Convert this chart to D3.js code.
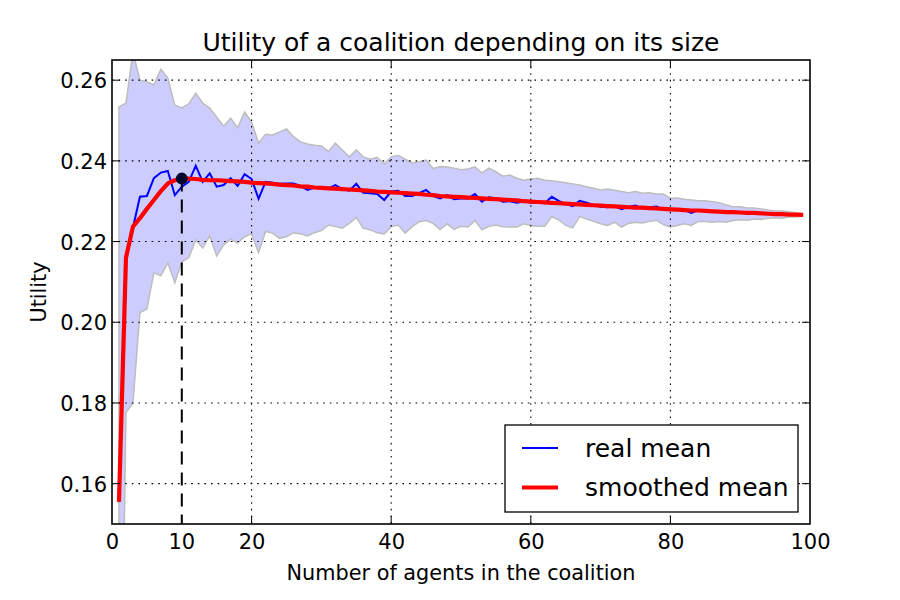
<!DOCTYPE html>
<html>
<head>
<meta charset="utf-8">
<script src="https://cdn.jsdelivr.net/npm/d3@7"></script>
<style>
  body { margin: 0; background: #fff; }
  #chart { width: 900px; height: 600px; }
  text { font-family: "DejaVu Sans", sans-serif; fill: #000; }
</style>
</head>
<body>
<div id="chart"></div>
<script>
// coalition sizes 1..99
const sizes = d3.range(1, 100);

const realMean = [
  0.1555, 0.2160, 0.2234, 0.2311, 0.2313, 0.2357, 0.2371, 0.2375, 0.2315, 0.2336,
  0.2348, 0.2388, 0.2348, 0.2369, 0.2336, 0.2340, 0.2357, 0.2338, 0.2367, 0.2355,
  0.2306, 0.2348, 0.2346, 0.2343, 0.2344, 0.2344, 0.2338, 0.2328, 0.2334, 0.2332,
  0.2332, 0.2340, 0.2330, 0.2326, 0.2343, 0.2321, 0.2320, 0.2318, 0.2303, 0.2324,
  0.2326, 0.2313, 0.2313, 0.2320, 0.2328, 0.2313, 0.2307, 0.2315, 0.2305, 0.2307,
  0.2307, 0.2318, 0.2299, 0.2310, 0.2307, 0.2299, 0.2300, 0.2296, 0.2299, 0.2297,
  0.2297, 0.2295, 0.2311, 0.2301, 0.2293, 0.2288, 0.2301, 0.2296, 0.2291, 0.2286,
  0.2285, 0.2288, 0.2280, 0.2286, 0.2289, 0.2282, 0.2285, 0.2287, 0.2279, 0.2281,
  0.2278, 0.2278, 0.2271, 0.2278, 0.2276, 0.2274, 0.2275, 0.2273, 0.2272, 0.2273,
  0.2270, 0.2271, 0.2269, 0.2270, 0.2268, 0.2267, 0.2268, 0.2266, 0.2266
];

const smoothedMean = [
  0.1555, 0.2160, 0.2237, 0.2258, 0.2281, 0.2303, 0.2325, 0.2344, 0.2352, 0.2356,
  0.2356, 0.2355, 0.2353, 0.2352, 0.2352, 0.2351, 0.2350, 0.2349, 0.2348, 0.2346,
  0.2345, 0.2344, 0.2343, 0.2341, 0.2340, 0.2339, 0.2337, 0.2336, 0.2334, 0.2333,
  0.2332, 0.2331, 0.2330, 0.2329, 0.2328, 0.2327, 0.2326, 0.2324, 0.2323, 0.2322,
  0.2321, 0.2320, 0.2319, 0.2318, 0.2316, 0.2315, 0.2313, 0.2312, 0.2311, 0.2310,
  0.2309, 0.2308, 0.2307, 0.2306, 0.2305, 0.2304, 0.2303, 0.2302, 0.2300, 0.2299,
  0.2298, 0.2297, 0.2296, 0.2295, 0.2294, 0.2293, 0.2292, 0.2291, 0.2290, 0.2289,
  0.2288, 0.2287, 0.2286, 0.2285, 0.2284, 0.2284, 0.2283, 0.2282, 0.2281, 0.2280,
  0.2279, 0.2278, 0.2277, 0.2277, 0.2276, 0.2275, 0.2274, 0.2273, 0.2273, 0.2272,
  0.2271, 0.2271, 0.2270, 0.2269, 0.2268, 0.2268, 0.2267, 0.2267, 0.2266
];

const bandUpper = [
  0.2534, 0.2543, 0.2670, 0.2600, 0.2596, 0.2588, 0.2627, 0.2605, 0.2538, 0.2531,
  0.2541, 0.2568, 0.2543, 0.2531, 0.2508, 0.2486, 0.2506, 0.2482, 0.2521, 0.2496,
  0.2444, 0.2466, 0.2464, 0.2472, 0.2479, 0.2460, 0.2447, 0.2442, 0.2439, 0.2437,
  0.2423, 0.2444, 0.2427, 0.2410, 0.2427, 0.2410, 0.2404, 0.2409, 0.2392, 0.2410,
  0.2414, 0.2404, 0.2395, 0.2398, 0.2402, 0.2381, 0.2386, 0.2385, 0.2382, 0.2378,
  0.2380, 0.2385, 0.2370, 0.2382, 0.2373, 0.2362, 0.2365, 0.2357, 0.2352, 0.2355,
  0.2357, 0.2352, 0.2351, 0.2348, 0.2346, 0.2343, 0.2340, 0.2336, 0.2332, 0.2328,
  0.2330, 0.2327, 0.2324, 0.2321, 0.2324, 0.2320, 0.2321, 0.2318, 0.2318, 0.2307,
  0.2308, 0.2305, 0.2303, 0.2301, 0.2301, 0.2299, 0.2296, 0.2291, 0.2286, 0.2286,
  0.2283, 0.2283, 0.2281, 0.2278, 0.2276, 0.2276, 0.2274, 0.2271, 0.2268
];

const bandLower = [
  0.0590, 0.1776, 0.1800, 0.2024, 0.2033, 0.2123, 0.2115, 0.2147, 0.2098, 0.2150,
  0.2160, 0.2204, 0.2184, 0.2214, 0.2164, 0.2192, 0.2206, 0.2196, 0.2212, 0.2219,
  0.2173, 0.2225, 0.2221, 0.2208, 0.2212, 0.2222, 0.2219, 0.2214, 0.2222, 0.2227,
  0.2241, 0.2237, 0.2233, 0.2245, 0.2260, 0.2233, 0.2229, 0.2222, 0.2219, 0.2237,
  0.2241, 0.2221, 0.2237, 0.2249, 0.2252, 0.2245, 0.2230, 0.2244, 0.2230, 0.2238,
  0.2236, 0.2252, 0.2229, 0.2238, 0.2241, 0.2237, 0.2236, 0.2236, 0.2244, 0.2240,
  0.2238, 0.2238, 0.2262, 0.2254, 0.2240, 0.2234, 0.2262, 0.2256, 0.2250, 0.2244,
  0.2240, 0.2248, 0.2236, 0.2245, 0.2248, 0.2246, 0.2250, 0.2253, 0.2242, 0.2236,
  0.2240, 0.2244, 0.2240, 0.2250, 0.2250, 0.2248, 0.2250, 0.2248, 0.2252, 0.2254,
  0.2253, 0.2256, 0.2255, 0.2258, 0.2259, 0.2258, 0.2261, 0.2261, 0.2263
];

const xTicks = [0, 20, 40, 60, 80, 100];
const yTicks = [0.16, 0.18, 0.20, 0.22, 0.24, 0.26];
const bestSize = 10;
const bestUtility = 0.2356;
const legendLabels = ["real mean", "smoothed mean"];

class Chart{
  constructor(opts){
    this.element = opts.element;
  }

  draw(){
    this.width = 900;
    this.height = 600;
    this.margin = {
      top : 60,
      bottom : 76,
      left : 112,
      right : 90
    };
    this.innerW = this.width - this.margin.left - this.margin.right;
    this.innerH = this.height - this.margin.top - this.margin.bottom;

    this.element.innerHTML = '';
    const svg = d3.select(this.element).append('svg');
    svg.attr('width', this.width);
    svg.attr('height', this.height);
    this.svg = svg;

    svg.append('defs').append('clipPath')
       .attr('id', 'plotclip')
       .append('rect')
       .attr('width', this.innerW)
       .attr('height', this.innerH);

    this.plot = svg.append('g')
                   .attr('transform', `translate(${this.margin.left},${this.margin.top})`);

    this.createScales();
    this.addBand();
    this.addGrid();
    this.addLines();
    this.addAxes();
    this.addLabels();
    this.addLegend();
  }

  createScales(){
    this.xScale = d3.scaleLinear()
                    .range([0, this.innerW])
                    .domain([0, 100]);

    this.yScale = d3.scaleLinear()
                    .range([this.innerH, 0])
                    .domain([0.15, 0.265]);
  }

  addBand(){
    const area = d3.area()
      .x((d, i) => this.xScale(sizes[i]))
      .y0((d, i) => this.yScale(bandLower[i]))
      .y1((d, i) => this.yScale(bandUpper[i]));

    this.plot.append('path')
             .datum(sizes)
             .attr('clip-path', 'url(#plotclip)')
             .attr('d', area)
             .style('fill', '#ccccff')
             .style('stroke', '#bdbdbd')
             .style('stroke-width', 1.5);
  }

  addGrid(){
    const g = this.plot.append('g').attr('class', 'grid');
    g.selectAll('.gx')
     .data(xTicks.filter(t => t > 0 && t < 100))
     .join('line')
     .attr('x1', d => this.xScale(d))
     .attr('x2', d => this.xScale(d))
     .attr('y1', 0)
     .attr('y2', this.innerH);
    g.selectAll('.gy')
     .data(yTicks)
     .join('line')
     .attr('class', 'gy')
     .attr('x1', 0)
     .attr('x2', this.innerW)
     .attr('y1', d => this.yScale(d))
     .attr('y2', d => this.yScale(d));
    g.selectAll('line')
     .style('stroke', '#000')
     .style('stroke-width', 1.1)
     .style('stroke-dasharray', '1.6,5');
  }

  addLines(){
    const line = vals => d3.line()
      .x((d, i) => this.xScale(sizes[i]))
      .y((d, i) => this.yScale(vals[i]))(sizes);

    const lines = this.plot.append('g').attr('clip-path', 'url(#plotclip)');

    lines.append('path')
         .attr('d', line(realMean))
         .style('stroke', '#0000ff')
         .style('stroke-width', 2)
         .style('fill', 'none');

    lines.append('path')
         .attr('d', line(smoothedMean))
         .style('stroke', '#ff0000')
         .style('stroke-width', 4.2)
         .style('stroke-linejoin', 'round')
         .style('fill', 'none');

    // best coalition size marker
    lines.append('line')
         .attr('x1', this.xScale(bestSize))
         .attr('x2', this.xScale(bestSize))
         .attr('y1', this.yScale(bestUtility))
         .attr('y2', this.innerH)
         .style('stroke', '#000')
         .style('stroke-width', 2)
         .style('stroke-dasharray', '13,8');

    lines.append('circle')
         .attr('cx', this.xScale(bestSize))
         .attr('cy', this.yScale(bestUtility))
         .attr('r', 6)
         .style('fill', '#06062e');
  }

  addAxes(){
    const tl = 8;
    const xAxis = d3.axisBottom(this.xScale)
                    .tickValues(xTicks)
                    .tickSize(0)
                    .tickPadding(0)
                    .tickFormat(d3.format('d'));

    const yAxis = d3.axisLeft(this.yScale)
                    .tickValues(yTicks)
                    .tickSize(0)
                    .tickFormat(d3.format('.2f'));

    const gx = this.plot.append('g')
             .attr('class', 'x axis')
             .attr('transform', `translate(0, ${this.innerH})`)
             .call(xAxis);
    gx.select('.domain').remove();
    gx.selectAll('text')
      .attr('y', 25)
      .attr('dy', 0)
      .style('font-size', '21px');

    // extra label under the dashed line
    gx.append('text')
      .attr('x', this.xScale(bestSize))
      .attr('y', 25)
      .attr('text-anchor', 'middle')
      .style('font-size', '21px')
      .style('font-family', '"DejaVu Sans", sans-serif')
      .text(bestSize);

    const gy = this.plot.append('g')
             .attr('class', 'y axis')
             .call(yAxis);
    gy.select('.domain').remove();
    gy.selectAll('text')
      .attr('x', -5)
      .attr('dy', '0.36em')
      .style('font-size', '21px');

    // inward tick marks on all four sides
    const ticks = this.plot.append('g');
    xTicks.filter(t => t > 0 && t < 100).forEach(t => {
      const x = this.xScale(t);
      ticks.append('line').attr('x1', x).attr('x2', x).attr('y1', this.innerH).attr('y2', this.innerH - tl);
      ticks.append('line').attr('x1', x).attr('x2', x).attr('y1', 0).attr('y2', tl);
    });
    yTicks.forEach(t => {
      const y = this.yScale(t);
      ticks.append('line').attr('x1', 0).attr('x2', tl).attr('y1', y).attr('y2', y);
      ticks.append('line').attr('x1', this.innerW).attr('x2', this.innerW - tl).attr('y1', y).attr('y2', y);
    });
    ticks.selectAll('line').style('stroke', '#000').style('stroke-width', 1);

    this.plot.append('rect')
             .attr('width', this.innerW)
             .attr('height', this.innerH)
             .style('fill', 'none')
             .style('stroke', '#000')
             .style('stroke-width', 1.6);
  }

  addLabels(){
    this.svg.append('text')
            .attr('x', this.margin.left + this.innerW / 2)
            .attr('y', 51)
            .attr('text-anchor', 'middle')
            .style('font-size', '25px')
            .text('Utility of a coalition depending on its size');

    this.svg.append('text')
            .attr('x', this.margin.left + this.innerW / 2)
            .attr('y', 580)
            .attr('text-anchor', 'middle')
            .style('font-size', '20.8px')
            .text('Number of agents in the coalition');

    this.svg.append('text')
            .attr('transform', `translate(46, ${this.margin.top + this.innerH / 2}) rotate(-90)`)
            .attr('text-anchor', 'middle')
            .style('font-size', '20.8px')
            .text('Utility');
  }

  addLegend(){
    const lg = this.svg.append('g').attr('transform', 'translate(505,425)');
    lg.append('rect')
      .attr('width', 293)
      .attr('height', 87)
      .style('fill', '#fff')
      .style('stroke', '#000')
      .style('stroke-width', 1.3);

    const colors = ['#0000ff', '#ff0000'];
    const widths = [2, 4.2];
    legendLabels.forEach((name, i) => {
      const y = 23 + i * 39.5;
      lg.append('line')
        .attr('x1', 17).attr('x2', 53)
        .attr('y1', y).attr('y2', y)
        .style('stroke', colors[i])
        .style('stroke-width', widths[i]);
      lg.append('text')
        .attr('x', 80)
        .attr('y', y + 8.5)
        .style('font-size', '25px')
        .text(name);
    });
  }
}

const chart = new Chart({element: document.getElementById('chart')});
chart.draw();
</script>
</body>
</html>
